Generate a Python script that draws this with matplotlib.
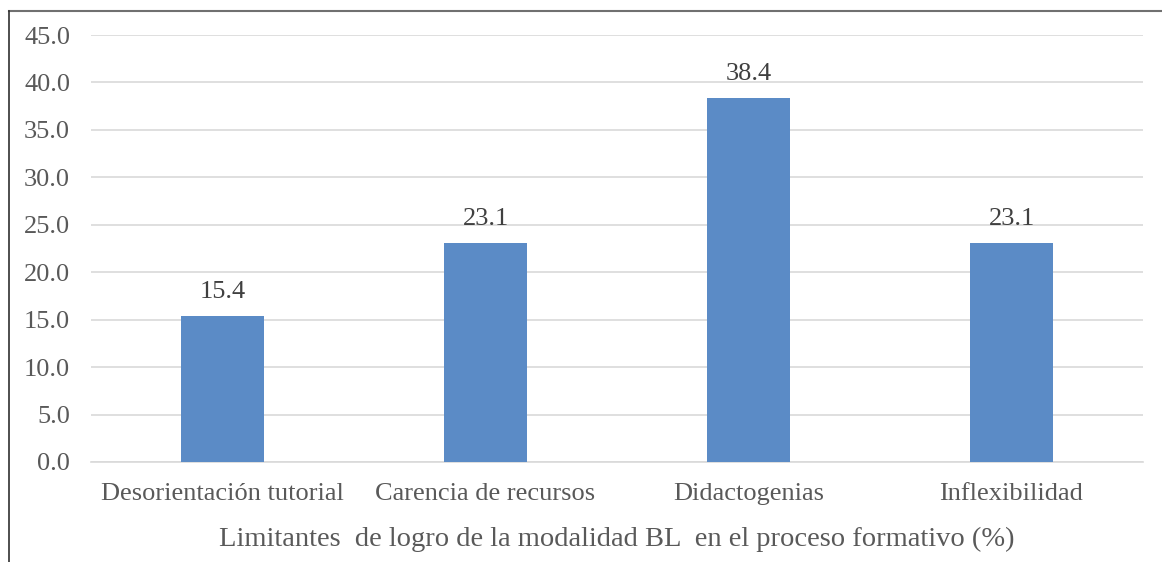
import matplotlib
matplotlib.use("Agg")
import matplotlib.pyplot as plt
from matplotlib.lines import Line2D

# datos del grafico
categorias = ["Desorientación tutorial", "Carencia de recursos", "Didactogenias", "Inflexibilidad"]
valores = [15.4, 23.1, 38.4, 23.1]
ticks_y = [0, 5, 10, 15, 20, 25, 30, 35, 40, 45]

W, H = 1162, 562
plt.rcParams['font.family'] = ['Liberation Serif', 'DejaVu Serif']

fig = plt.figure(figsize=(W / 100, H / 100), dpi=100)
ax = fig.add_axes([91 / W, 1 - 462 / H, (1143 - 91) / W, (462 - 35) / H])

x = list(range(len(categorias)))
ax.bar(x, valores, width=0.315, color="#5B8BC6", zorder=3)

for xi, v in zip(x, valores):
    ax.text(xi, v + 2.5, "%.1f" % v, ha="center", va="center",
            fontsize=19, color="#404040")

ax.set_xlim(-0.5, 3.5)
ax.set_ylim(0, 45)
ax.set_yticks(ticks_y)
ax.set_yticklabels(["%.1f" % t for t in ticks_y])
ax.set_xticks(x)
ax.set_xticklabels(categorias)
ax.tick_params(axis="both", length=0, labelsize=19, labelcolor="#595959")
ax.tick_params(axis="y", pad=15)
ax.tick_params(axis="x", pad=15)

ax.grid(axis="y", color="#D9D9D9", linewidth=1.2, zorder=0)
for s in ["top", "right", "left"]:
    ax.spines[s].set_visible(False)
ax.spines["bottom"].set_color("#D9D9D9")
ax.spines["bottom"].set_linewidth(1.2)

ax.set_xlabel("Limitantes  de logro de la modalidad BL  en el proceso formativo (%)",
              fontsize=20.5, color="#595959", labelpad=16)

# marco exterior (solo arriba e izquierda visibles)
fig.add_artist(Line2D([9 / W, 1], [1 - 11 / H, 1 - 11 / H], color="#707070", linewidth=1.5))
fig.add_artist(Line2D([9 / W, 9 / W], [0, 1 - 11 / H], color="#303030", linewidth=1.2))

fig.savefig("out.png", dpi=100)
